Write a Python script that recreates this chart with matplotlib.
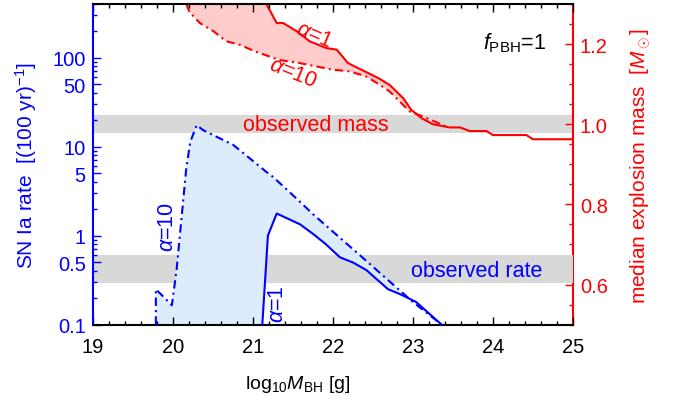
import numpy as np
import matplotlib
matplotlib.use('Agg')
import matplotlib.pyplot as plt
from matplotlib.ticker import FixedLocator, MultipleLocator, LogLocator, FuncFormatter, NullFormatter

plt.rcParams['font.family'] = ['Liberation Sans', 'DejaVu Sans']
plt.rcParams['mathtext.fontset'] = 'custom'
plt.rcParams['mathtext.rm'] = 'Liberation Sans'
plt.rcParams['mathtext.it'] = 'Liberation Sans:italic'
plt.rcParams['mathtext.bf'] = 'Liberation Sans:bold'

# SN Ia rate [(100 yr)^-1] vs log10 M_BH (left axis)
m_a10 = [19.79, 19.79, 19.99, 20.05, 20.11, 20.17, 20.22, 20.30, 20.38, 20.76,
         21.17, 21.25, 21.59, 21.75, 22.34, 23.00, 23.36]
rate_a10 = [0.1, 0.25, 0.165, 0.42, 1.55, 5.7, 11.3, 17.4, 15.3, 10.4,
            5.2, 4.6, 2.4, 1.75, 0.6, 0.18, 0.1]
m_a1 = [21.12, 21.19, 21.30, 21.59, 21.75, 21.90, 22.09, 22.25, 22.42, 22.69,
        22.84, 23.04, 23.36]
rate_a1 = [0.1, 1.0, 1.77, 1.34, 1.05, 0.82, 0.57, 0.50, 0.41, 0.25,
           0.22, 0.18, 0.1]

# median explosion mass [Msun] (right axis)
m_mass_a1 = [21.17, 21.30, 21.38, 21.55, 21.71, 21.92, 22.05, 22.19, 22.57, 22.71,
             22.88, 22.98, 23.11, 23.25, 23.46, 23.59, 23.71, 23.92, 24.00, 24.42,
             24.50, 25.00]
mass_a1 = [1.30, 1.2525, 1.2525, 1.232, 1.207, 1.19, 1.186, 1.1525, 1.115, 1.098,
           1.065, 1.036, 1.015, 1.0, 0.992, 0.992, 0.983, 0.983, 0.973, 0.973,
           0.9625, 0.9625]
m_mass_a10 = [20.17, 20.21, 20.34, 20.51, 20.67, 20.84, 21.05, 21.34, 21.59, 21.80,
              22.00, 22.21, 22.42, 22.59, 22.71, 22.96, 23.13, 23.42]
mass_a10 = [1.30, 1.28, 1.2525, 1.232, 1.207, 1.198, 1.18, 1.16, 1.1525, 1.144,
            1.136, 1.132, 1.119, 1.098, 1.082, 1.032, 1.019, 0.994]

obs_rate = (0.29, 0.61)
obs_mass = (0.978, 1.022)

rate_ticks = [0.1, 0.5, 1, 5, 10, 50, 100]

blue = '#0000ff'
red = '#ff0000'
grey = '#d8d8d8'
fs = 15.5

fig = plt.figure(figsize=(6.76, 4.02), dpi=100)
ax = fig.add_axes([0.137, 0.190, 0.7105, 0.7976])
ax2 = ax.twinx()
ax.set_zorder(ax2.get_zorder() + 1)
ax.patch.set_visible(False)

# right axis: mass
ax2.axhspan(obs_mass[0], obs_mass[1], color=grey, lw=0, zorder=0)
cut = [i for i, m in enumerate(m_mass_a1) if m <= m_mass_a10[-1]]
poly_x = m_mass_a10 + [m_mass_a1[i] for i in cut[::-1]]
poly_y = mass_a10 + [mass_a1[i] for i in cut[::-1]]
ax2.fill(poly_x, poly_y, color='#ffcccc', lw=0, zorder=1)
ax2.plot(m_mass_a1, mass_a1, color=red, lw=1.5, zorder=3)
ax2.plot(m_mass_a10, mass_a10, color=red, lw=1.5, ls=(0, (4, 2, 1, 2)), zorder=3)
ax2.text(21.79, 1.0, 'observed mass', color=red, fontsize=fs, ha='center', va='center')
ax2.text(21.77, 1.225, r'$\alpha$=1', color=red, fontsize=fs, ha='center', va='center', rotation=-23)
ax2.text(21.50, 1.13, r'$\alpha$=10', color=red, fontsize=fs, ha='center', va='center', rotation=-22)
ax2.set_ylim(0.5, 1.3)
ax2.yaxis.set_major_locator(MultipleLocator(0.2))
ax2.yaxis.set_minor_locator(MultipleLocator(0.05))
ax2.yaxis.set_major_formatter(FuncFormatter(lambda v, p: '%.1f' % v))
ax2.tick_params(axis='y', which='both', direction='in', colors=red, labelsize=14.5, width=1)
ax2.tick_params(axis='y', which='major', length=6, pad=5)
ax2.tick_params(axis='y', which='minor', length=3)
ax2.set_ylabel(r'median explosion mass  [$M_\odot$]', color=red, fontsize=15)
ax2.yaxis.set_label_coords(1.117, 0.497)
for s in ['left', 'top', 'bottom']:
    ax2.spines[s].set_visible(False)
ax2.spines['right'].set_color(red)
ax2.spines['right'].set_linewidth(1.5)

# left axis: rate
ax.axhspan(obs_rate[0], obs_rate[1], color=grey, lw=0, zorder=0)
ax.fill(m_a10 + m_a1[::-1], rate_a10 + rate_a1[::-1], color='#dcecfc', lw=0, zorder=1)
ax.plot(m_a1, rate_a1, color=blue, lw=1.5, zorder=3)
ax.plot(m_a10, rate_a10, color=blue, lw=1.5, ls=(0, (4, 2, 1, 2)), zorder=3)
ax.text(23.8, 0.41, 'observed rate', color=blue, fontsize=fs, ha='center', va='center')
ax.text(19.94, 1.29, r'$\alpha$=10', color=blue, fontsize=fs, ha='center', va='center', rotation=90)
ax.text(21.31, 0.175, r'$\alpha$=1', color=blue, fontsize=fs, ha='center', va='center', rotation=90)
ax.text(0.879, 0.881, r'$f_{\mathrm{PBH}}$=1', color='black', fontsize=fs,
        ha='center', va='center', transform=ax.transAxes)

ax.set_yscale('log')
ax.set_ylim(0.1, 400)
ax.set_xlim(19, 25)
ax.yaxis.set_major_locator(FixedLocator(rate_ticks))
ax.yaxis.set_major_formatter(FuncFormatter(lambda v, p: '%g' % v))
ax.yaxis.set_minor_locator(LogLocator(subs=np.arange(2, 10)))
ax.yaxis.set_minor_formatter(NullFormatter())
ax.xaxis.set_major_locator(MultipleLocator(1))
ax.xaxis.set_minor_locator(MultipleLocator(0.2))
ax.tick_params(axis='x', which='both', direction='in', top=True, bottom=True,
               labelsize=14.5, width=1, pad=9)
ax.tick_params(axis='y', which='both', direction='in', right=False, colors=blue,
               labelsize=14.5, width=1, pad=5)
ax.tick_params(which='major', length=6)
ax.tick_params(which='minor', length=3)

ax.set_ylabel(r'SN Ia rate  [(100 yr)$^{-1}$]', color=blue, fontsize=15)
ax.yaxis.set_label_coords(-0.112, 0.5)
ax.set_xlabel(r'$\mathrm{log}_{10}M_{\mathrm{BH}}$ [g]', fontsize=14)
ax.xaxis.set_label_coords(0.427, -0.151)

ax.spines['right'].set_visible(False)
ax.spines['left'].set_color(blue)
for s in ['left', 'top', 'bottom']:
    ax.spines[s].set_linewidth(1.5)

fig.savefig('out.png', dpi=100)
